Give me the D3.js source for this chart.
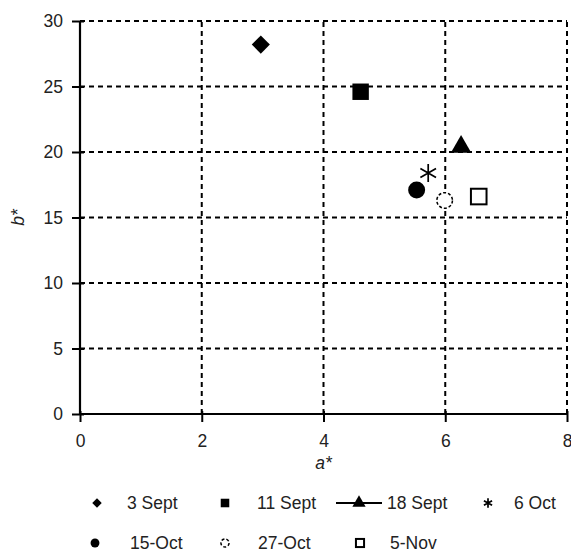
<!DOCTYPE html>
<html>
<head>
<meta charset="utf-8">
<script src="https://cdn.jsdelivr.net/npm/d3@7"></script>
<style>
  body { margin: 0; background: #fff; }
  text { font-family: "Liberation Sans", Arial, sans-serif; fill: #222; }
</style>
</head>
<body>
<div id="chart"></div>
<script>
// sample dates and colour readings
var dates = ["3 Sept", "11 Sept", "18 Sept", "6 Oct", "15-Oct", "27-Oct", "5-Nov"];
var aStar = [2.97, 4.61, 6.26, 5.72, 5.53, 5.99, 6.55];
var bStar = [28.2, 24.6, 20.4, 18.4, 17.1, 16.3, 16.6];
var xTicks = [0, 2, 4, 6, 8];
var yTicks = [0, 5, 10, 15, 20, 25, 30];

var width = 571, height = 555;
var margin = {left: 80, right: 4, top: 21, bottom: 141};

var svg = d3.select("#chart").append("svg")
  .attr("width", width)
  .attr("height", height);

var x = d3.scaleLinear().domain([0, 8]).range([margin.left, width - margin.right]);
var y = d3.scaleLinear().domain([0, 30]).range([height - margin.bottom, margin.top]);

// dashed grid
svg.append("g").selectAll("line.gx")
  .data(xTicks.slice(1))
  .enter().append("line")
  .attr("x1", function(d){ return x(d); })
  .attr("x2", function(d){ return x(d); })
  .attr("y1", y(0)).attr("y2", y(30))
  .attr("stroke", "#000").attr("stroke-width", 2)
  .attr("stroke-dasharray", "5,4");

svg.append("g").selectAll("line.gy")
  .data(yTicks.slice(1))
  .enter().append("line")
  .attr("y1", function(d){ return y(d); })
  .attr("y2", function(d){ return y(d); })
  .attr("x1", x(0)).attr("x2", x(8))
  .attr("stroke", "#000").attr("stroke-width", 2)
  .attr("stroke-dasharray", "5,4");

// axes
var xAxis = d3.axisBottom(x).tickValues(xTicks).tickSize(8).tickPadding(13);
var yAxis = d3.axisLeft(y).tickValues(yTicks).tickSize(8).tickPadding(9);

var gx = svg.append("g")
  .attr("transform", "translate(0," + y(0) + ")")
  .call(xAxis);
var gy = svg.append("g")
  .attr("transform", "translate(" + x(0) + ",0)")
  .call(yAxis);

[gx, gy].forEach(function(g){
  g.select(".domain").attr("stroke", "#000").attr("stroke-width", 2.2);
  g.selectAll(".tick line").attr("stroke", "#000").attr("stroke-width", 2);
  g.selectAll(".tick text").style("font-size", "17.5px").attr("fill", "#222")
    .style("font-family", "Liberation Sans, Arial, sans-serif");
});
gx.selectAll(".tick line").attr("y1", -3);
gy.selectAll(".tick line").attr("x1", -8).attr("x2", 4);
gy.select(".domain").attr("d", "M0," + y(0) + "V" + y(30));
gx.select(".domain").attr("d", "M" + x(0) + ",0H" + x(8));

// axis titles
svg.append("text")
  .attr("x", x(4)).attr("y", 469)
  .attr("text-anchor", "middle")
  .style("font-size", "17.5px").style("font-style", "italic")
  .text("a*");
svg.append("text")
  .attr("transform", "translate(24," + y(15) + ") rotate(-90)")
  .attr("text-anchor", "middle")
  .style("font-size", "17.5px").style("font-style", "italic")
  .text("b*");

// marker drawing, k scales the whole glyph
function marker(g, i, k) {
  if (i === 0) {
    g.append("path").attr("d", d3.symbol().type(d3.symbolDiamond2).size(210 * k * k)())
      .attr("fill", "#000");
  } else if (i === 1) {
    g.append("path").attr("d", d3.symbol().type(d3.symbolSquare).size(270 * k * k)())
      .attr("fill", "#000");
  } else if (i === 2) {
    g.append("path").attr("d", d3.symbol().type(d3.symbolTriangle).size(180 * k * k)())
      .attr("fill", "#000");
  } else if (i === 3) {
    g.append("path").attr("d", d3.symbol().type(d3.symbolAsterisk).size(230 * k * k)())
      .attr("fill", "none").attr("stroke", "#000").attr("stroke-width", 1.7);
  } else if (i === 4) {
    g.append("circle").attr("r", 8.5 * k).attr("fill", "#000");
  } else if (i === 5) {
    g.append("circle").attr("r", 7.8 * k)
      .attr("fill", "#fff").attr("stroke", "#000").attr("stroke-width", 1.5)
      .attr("stroke-dasharray", "3,2");
  } else {
    var h = 7.8 * k;
    g.append("rect").attr("x", -h).attr("y", -h).attr("width", 2 * h).attr("height", 2 * h)
      .attr("fill", "#fff").attr("stroke", "#000").attr("stroke-width", 2);
  }
}

var pts = svg.append("g").selectAll("g.pt")
  .data(dates)
  .enter().append("g")
  .attr("class", "pt")
  .attr("transform", function(d, i){ return "translate(" + x(aStar[i]) + "," + y(bStar[i]) + ")"; });
pts.each(function(d, i){ marker(d3.select(this), i, 1); });

// legend
var legRows = [503, 543];
var legPos = [
  {m: 97, t: 127, row: 0},
  {m: 225, t: 257, row: 0},
  {m: 359, t: 387, row: 0, line: [336, 382]},
  {m: 488, t: 514, row: 0},
  {m: 95, t: 130, row: 1},
  {m: 225, t: 258, row: 1},
  {m: 360, t: 390, row: 1}
];
var leg = svg.append("g").selectAll("g.leg")
  .data(dates)
  .enter().append("g")
  .attr("class", "leg");
leg.each(function(d, i){
  var p = legPos[i];
  var g = d3.select(this);
  var yy = legRows[p.row];
  if (p.line) {
    g.append("line").attr("x1", p.line[0]).attr("x2", p.line[1]).attr("y1", yy).attr("y2", yy)
      .attr("stroke", "#000").attr("stroke-width", 2);
  }
  var mg = g.append("g").attr("transform", "translate(" + p.m + "," + yy + ")");
  marker(mg, i, i === 2 ? 0.65 : 0.52);
  g.append("text").attr("x", p.t).attr("y", yy + 6.3)
    .style("font-size", "17.5px").text(d);
});
</script>
</body>
</html>
